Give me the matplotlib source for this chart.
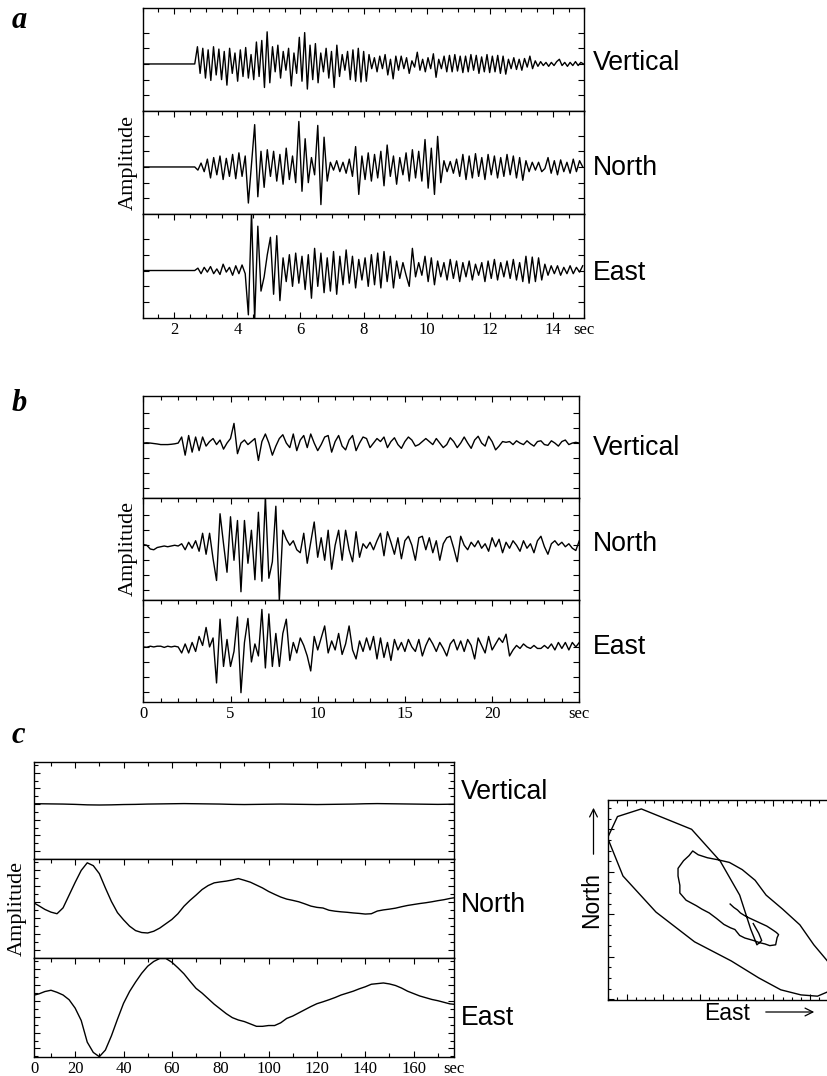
import numpy as np
import matplotlib
matplotlib.use("Agg")
import matplotlib.pyplot as plt
from matplotlib.ticker import MultipleLocator, FixedLocator, NullFormatter
from matplotlib.patches import FancyArrowPatch

components = ["Vertical", "North", "East"]

# ---- panel a: 1-15 sec, traces sampled at fixed steps after the onset ----
a_start, a_onset = 1.0, 2.65
a_step_vertical, a_step = 0.085, 0.1
a_vertical = [
    0.0, 1.1, -0.6, 1.0, -0.9, 0.9, -1.05, 1.1, -0.7, 0.95,
    -1.0, 0.8, -1.35, 1.0, -0.6, 0.7, -1.1, 0.9, -0.8, 1.05,
    -0.9, 0.6, -1.0, 1.4, -0.8, 1.5, -1.5, 2.05, -1.2, 1.1,
    -0.5, 1.2, -0.9, 0.8, -0.4, 1.0, -1.4, 0.7, -0.6, 1.7,
    -1.1, 2.0, -1.6, 1.2, -1.0, 1.3, -1.2, 0.7, -0.5, 1.0,
    -0.9, 0.8, -1.5, 1.2, -0.8, 0.6, -0.4, 0.8, -1.0, 0.9,
    -1.1, 1.0, -1.15, 0.8, -1.1, 0.6, -0.3, 0.4, -0.5, 0.5,
    -0.3, 0.6, -0.7, 0.3, -0.95, 0.5, -0.4, 0.5, -0.3, 0.4,
    -0.6, 0.2, -0.2, 0.75, -0.4, 0.3, -0.5, 0.4, -0.3, 0.65,
    -0.85, 0.3, -0.3, 0.5, -0.5, 0.55, -0.5, 0.6, -0.45, 0.5,
    -0.55, 0.5, -0.5, 0.6, -0.4, 0.55, -0.6, 0.45, -0.5, 0.6,
    -0.55, 0.5, -0.5, 0.55, -0.6, 0.5, -0.65, 0.3, -0.3, 0.4,
    -0.35, 0.3, -0.4, 0.35, -0.2, 0.5, -0.3, 0.2, -0.15, 0.15,
    -0.1, 0.1, -0.15, 0.1, -0.1, 0.15, 0.3, -0.1, 0.1, -0.15,
    0.1, -0.1, 0.15, -0.1, 0.1, 0.0,
]
a_north = [
    0.0, -0.2, 0.25, -0.3, 0.5, -0.7, 0.6, -0.5, 0.7, -0.8,
    0.55, -0.6, 0.8, -0.75, 0.9, -0.6, 0.7, -2.3, 0.2, 2.7,
    -1.9, 1.0, -1.3, 1.1, -0.6, 1.0, -0.9, 0.8, -1.1, 1.2,
    -0.8, 0.7, -1.0, 2.9, -1.55, 1.8, -1.0, 0.6, -0.5, 2.65,
    -2.4, 1.9, -0.9, 0.3, -0.2, 0.4, -0.3, 0.3, -0.4, 0.5,
    -0.6, 1.3, -1.75, 0.7, -0.8, 0.9, -0.9, 0.8, -0.7, 1.0,
    -1.2, 1.4, -0.6, 0.7, -1.1, 0.6, -0.5, 0.9, -0.9, 1.1,
    -0.7, 1.0, -0.9, 1.75, -1.35, 1.2, -1.75, 1.95, -1.0, 0.4,
    -0.3, 0.35, -0.4, 0.5, -0.6, 0.8, -0.8, 0.7, -0.7, 0.85,
    -0.6, 0.6, -0.8, 0.8, -0.5, 0.7, -0.7, 0.6, -0.6, 0.8,
    -0.5, 0.7, -0.7, 0.6, -0.85, 0.4, -0.3, 0.3, -0.2, 0.3,
    -0.3, -0.1, 0.6, -0.4, 0.4, -0.5, 0.45, -0.3, 0.3, -0.4,
    0.5, -0.3, 0.4, 0.0,
]
a_east = [
    0.0, 0.15, -0.2, 0.2, -0.1, 0.25, -0.2, 0.1, -0.25, 0.4,
    -0.1, 0.2, -0.3, 0.3, -0.2, 0.35, -0.2, -2.8, 3.7, -3.1,
    2.8, -1.3, -0.4, 1.0, 2.1, -1.5, 2.2, -1.9, 0.8, -0.7,
    1.0, -1.0, 1.1, -0.8, 0.9, -1.2, 1.0, -1.75, 1.4, -1.0,
    1.1, -1.4, 0.8, -1.3, 1.2, -1.5, 0.9, -0.9, 1.3, -0.8,
    0.9, -1.1, 0.7, -0.6, 0.8, -1.0, 1.0, -0.9, 1.1, -1.1,
    1.2, -0.7, 0.9, -1.1, 0.6, -0.5, 0.5, -0.3, -1.0, 1.4,
    -0.4, 0.5, -0.3, 0.9, -0.7, 0.8, -0.9, 0.6, -0.4, 0.5,
    -0.6, 0.7, -0.5, 0.6, -0.7, 0.5, -0.4, 0.6, -0.6, 0.4,
    -0.3, 0.5, -0.7, 0.6, -0.5, 0.7, -0.6, 0.5, -0.4, 0.6,
    -0.5, 0.7, -0.6, 0.5, -0.7, 0.9, -0.8, 0.85, -0.7, 0.8,
    -0.6, 0.4, -0.3, 0.3, -0.2, 0.3, -0.3, 0.2, -0.2, 0.3,
    -0.2, 0.2, -0.1, 0.3,
]

# ---- panel b: 0-25 sec ----
b_step = 0.2
b_vertical = [
    0.0, 0.02, 0.0, -0.03, -0.06, -0.1, -0.1, -0.1, -0.08, -0.05,
    0.0, 0.4, -0.8, 0.5, -0.6, 0.4, -0.5, 0.4, -0.2, 0.1,
    0.3, -0.1, 0.2, -0.4, 0.0, 0.3, 1.3, -0.7, 0.0, 0.2,
    -0.1, 0.1, 0.3, -1.15, 0.1, 0.6, 0.0, -0.8, -0.2, 0.3,
    0.55, 0.0, -0.3, 0.6, -0.5, 0.2, 0.5, -0.3, 0.6, 0.0,
    -0.5, -0.1, 0.4, 0.5, -0.6, 0.1, 0.5, -0.2, -0.45, 0.2,
    0.5, -0.5, 0.0, 0.4, 0.3, -0.3, 0.0, 0.3, 0.1, 0.4,
    -0.3, 0.1, 0.35, -0.1, -0.35, 0.1, 0.4, 0.2, -0.2, -0.1,
    0.1, 0.3, 0.1, -0.1, 0.3, 0.0, -0.3, -0.1, 0.35, 0.1,
    -0.3, 0.0, 0.4, 0.0, -0.35, 0.2, 0.45, 0.0, -0.2, 0.45,
    0.1, -0.45, -0.2, 0.1, 0.05, 0.1, -0.1, 0.15, 0.0, -0.1,
    0.15, -0.05, -0.2, 0.1, 0.15, -0.1, -0.15, 0.15, 0.0, -0.2,
    0.1, 0.2, -0.1, 0.0, 0.05, 0.0,
]
b_north = [
    0.05, 0.0, -0.25, -0.3, -0.15, -0.1, -0.05, -0.1, -0.05, 0.0,
    -0.05, 0.1, -0.3, 0.2, -0.2, 0.3, -0.4, 0.8, -0.6, 0.8,
    -0.9, -2.35, 2.1, 0.1, -1.8, 1.9, -1.0, 1.65, -3.1, 1.65,
    -1.2, 1.0, -2.3, 2.2, -2.4, 3.2, -2.2, -1.1, 2.6, -3.67,
    1.0, 0.4, 0.0, 0.3, -0.3, -0.5, 0.8, -1.2, 0.2, 1.55,
    -0.8, 0.5, -1.0, 1.0, -1.6, 0.0, 1.0, -1.0, 1.0, -0.3,
    -1.1, 0.9, -0.8, 0.1, -0.2, 0.2, -0.3, 0.3, 0.8, -0.7,
    0.9, 0.2, -0.6, 0.5, -0.9, 0.3, 0.6, 0.0, -1.0, 0.5,
    0.6, -0.3, 0.5, -0.5, 0.3, -1.0, 0.1, 0.5, 0.6, -0.2,
    -1.1, 0.6, 0.0, -0.3, 0.2, -0.1, 0.3, -0.2, 0.1, -0.4,
    0.5, -0.1, 0.4, -0.5, 0.2, -0.2, 0.3, 0.0, -0.4, 0.3,
    -0.2, 0.1, -0.5, 0.3, 0.6, -0.1, -0.6, 0.1, 0.3, 0.0,
    0.2, -0.1, 0.1, -0.2, -0.35, 0.3,
]
b_east = [
    0.0, -0.02, 0.05, 0.0, 0.05, 0.05, -0.03, 0.05, 0.0, 0.05,
    0.0, -0.4, 0.2, -0.4, 0.3, -0.3, 0.7, 0.1, 1.3, 0.0,
    0.6, -2.4, 1.85, -1.3, 0.5, -1.3, -0.3, 2.0, -3.05, 0.3,
    1.9, -1.0, 0.2, -0.6, 2.5, -1.4, 2.2, -1.3, 0.9, -1.3,
    0.9, 1.85, -0.9, 0.3, -0.4, 0.6, 0.1, -0.6, -1.6, 0.7,
    -0.2, 0.6, 1.4, -0.4, 0.4, -0.2, 0.9, -0.5, 0.2, 1.4,
    -0.2, -0.8, 0.4, -0.3, 0.6, -0.2, 0.7, -0.8, 0.6, -0.7,
    0.3, -0.9, 0.5, -0.2, 0.3, -0.3, 0.5, 0.0, -0.3, 0.5,
    -0.6, 0.1, 0.6, 0.2, -0.3, 0.3, -0.1, -0.6, 0.2, 0.5,
    -0.2, 0.4, -0.3, 0.5, 0.1, -0.8, 0.6, 0.1, -0.4, 0.7,
    -0.2, 0.2, 0.6, 0.3, 0.85, -0.6, -0.2, 0.1, -0.1, 0.2,
    0.0, -0.1, 0.1, -0.1, -0.1, 0.1, -0.1, 0.2, -0.2, 0.3,
    -0.1, 0.3, -0.2, 0.3, 0.0, 0.3,
]

# ---- panel c: long period record, 0-180 sec ----
c_step_vertical, c_step = 5.0, 2.5
c_vertical = [
    0.02, 0.02, 0.01, 0.0, -0.02, -0.05, -0.06, -0.05, -0.03, -0.02,
    0.0, 0.01, 0.02, 0.03, 0.02, 0.01, 0.0, -0.02, -0.03, -0.02,
    -0.01, 0.0, -0.01, -0.02, -0.03, -0.02, -0.01, 0.0, 0.02, 0.03,
    0.02, 0.01, 0.0, -0.01, -0.02, -0.01, 0.0,
]
c_north = [
    0.15, 0.0, -0.22, -0.45, -0.62, -0.72, -0.35, 0.45, 1.25, 2.0,
    2.48, 2.3, 1.8, 0.9, 0.05, -0.65, -1.1, -1.5, -1.78, -1.9,
    -1.93, -1.82, -1.62, -1.35, -1.08, -0.72, -0.25, 0.12, 0.45, 0.8,
    1.05, 1.22, 1.28, 1.33, 1.4, 1.49, 1.38, 1.26, 1.08, 0.9,
    0.68, 0.5, 0.33, 0.2, 0.12, 0.03, -0.1, -0.24, -0.32, -0.36,
    -0.5, -0.56, -0.6, -0.63, -0.67, -0.7, -0.74, -0.72, -0.55, -0.48,
    -0.43, -0.37, -0.28, -0.2, -0.14, -0.08, -0.03, 0.03, 0.1, 0.16,
    0.24, 0.3, 0.34,
]
c_east = [
    0.3, 0.35, 0.45, 0.6, 0.68, 0.55, 0.38, 0.08, -0.45, -1.23,
    -2.6, -3.25, -3.52, -3.1, -2.2, -1.15, -0.15, 0.6, 1.2, 1.75,
    2.2, 2.5, 2.69, 2.69, 2.45, 2.1, 1.72, 1.25, 0.8, 0.5,
    0.15, -0.2, -0.5, -0.8, -1.05, -1.2, -1.3, -1.45, -1.6, -1.6,
    -1.55, -1.55, -1.38, -1.1, -0.95, -0.75, -0.55, -0.35, -0.17, -0.05,
    0.08, 0.22, 0.38, 0.5, 0.62, 0.77, 0.9, 1.06, 1.1, 1.14,
    1.08, 0.98, 0.82, 0.62, 0.47, 0.32, 0.21, 0.1, 0.02, -0.08,
    -0.18, -0.22, -0.25,
]

plt.rcParams["font.family"] = ["Liberation Serif", "DejaVu Serif"]
plt.rcParams["axes.linewidth"] = 1.0

W, H = 828, 1076
fig = plt.figure(figsize=(W / 100, H / 100), dpi=100)


def fx(px):
    return px / W


def fy(py):
    return 1 - py / H


def add_box(left, top, right, bottom):
    return fig.add_axes([fx(left), fy(bottom), (right - left) / W, (bottom - top) / H])


def trace_axes(left, right, top, bottom, last, xlim, ylim, xmajor, xminor, yticks, yminor=None):
    ax = add_box(left, top, right, bottom)
    ax.set_xlim(*xlim)
    ax.set_ylim(*ylim)
    ax.xaxis.set_major_locator(FixedLocator(xmajor))
    ax.xaxis.set_minor_locator(FixedLocator(xminor))
    ax.yaxis.set_major_locator(FixedLocator(yticks))
    if yminor is not None:
        ax.yaxis.set_minor_locator(MultipleLocator(yminor))
    ax.tick_params(which="both", direction="in", top=True, bottom=last, left=True, right=True,
                   labelbottom=last, labelleft=False, width=0.8, labelsize=12, pad=3)
    ax.tick_params(which="major", length=4.5)
    ax.tick_params(which="minor", length=2.8)
    ax.yaxis.set_major_formatter(NullFormatter())
    return ax


def end_label(ax, x, text):
    ax.annotate(text, xy=(x, 0), xycoords=("data", "axes fraction"), xytext=(0, -3),
                textcoords="offset points", ha="center", va="top", fontsize=12)


sans = ["Liberation Sans", "DejaVu Sans"]
trace_lw = 1.0

# ---------------- panel a ----------------
a_bounds = [(8, 111), (111, 214), (214, 318)]
a_series = [
    (a_vertical, a_step_vertical),
    (a_north, a_step),
    (a_east, a_step),
]
a_label_y = [63, 168, 273]
for i, ((top, bottom), (vals, step)) in enumerate(zip(a_bounds, a_series)):
    last = i == 2
    ax = trace_axes(142.7, 584.3, top, bottom, last, (a_start, 15.0), (-3.0, 3.57),
                    np.arange(2, 15, 2), np.arange(1.0, 15.01, 0.5), [-2, -1, 0, 1, 2])
    t = np.r_[a_start, a_onset + step * np.arange(len(vals))]
    y = np.r_[0.0, vals]
    ax.plot(t, y, color="black", lw=trace_lw)
    if last:
        end_label(ax, 15.0, "sec")
    fig.text(fx(593), fy(a_label_y[i]), components[i], ha="left", va="center",
             fontsize=19.2, family=sans)
fig.text(fx(128), fy(163), "Amplitude", rotation=90, ha="center", va="center", fontsize=16)
fig.text(fx(12), fy(28), "a", fontsize=22, fontweight="bold", style="italic",
         ha="left", va="baseline")

# ---------------- panel b ----------------
b_bounds = [(395.7, 498.3), (498.3, 600), (600, 701.7)]
b_series = [b_vertical, b_north, b_east]
b_label_y = [448, 544, 647]
for i, ((top, bottom), vals) in enumerate(zip(b_bounds, b_series)):
    last = i == 2
    ax = trace_axes(143.3, 579.3, top, bottom, last, (0, 25), (-3.65, 3.13),
                    [0, 5, 10, 15, 20], np.arange(0, 25.01, 1), [-3, -2, -1, 0, 1, 2])
    t = b_step * np.arange(len(vals))
    ax.plot(t, vals, color="black", lw=trace_lw)
    if last:
        end_label(ax, 25.0, "sec")
    fig.text(fx(593), fy(b_label_y[i]), components[i], ha="left", va="center",
             fontsize=19.2, family=sans)
fig.text(fx(128), fy(549), "Amplitude", rotation=90, ha="center", va="center", fontsize=16)
fig.text(fx(12), fy(411), "b", fontsize=22, fontweight="bold", style="italic",
         ha="left", va="baseline")

# ---------------- panel c ----------------
c_xlim = (3.1, 176.7)
c_bounds = [(761.7, 859.3), (859.3, 958.3), (958.3, 1056.7)]
c_series = [
    (c_vertical, c_step_vertical),
    (c_north, c_step),
    (c_east, c_step),
]
c_label_y = [792, 905, 1018]
for i, ((top, bottom), (vals, step)) in enumerate(zip(c_bounds, c_series)):
    last = i == 2
    ax = trace_axes(34.3, 454, top, bottom, last, c_xlim, (-3.52, 2.7),
                    np.arange(20, 161, 20), np.arange(10, 171, 20), [-3, -2, -1, 0, 1, 2], 0.5)
    t = step * np.arange(len(vals))
    ax.plot(t, vals, color="black", lw=trace_lw)
    if last:
        end_label(ax, c_xlim[1], "sec")
        end_label(ax, c_xlim[0], "0")
    fig.text(fx(461), fy(c_label_y[i]), components[i], ha="left", va="center",
             fontsize=19.2, family=sans)
fig.text(fx(17), fy(908), "Amplitude", rotation=90, ha="center", va="center", fontsize=16)
fig.text(fx(12), fy(743), "c", fontsize=22, fontweight="bold", style="italic",
         ha="left", va="baseline")

# particle motion: East against North of the panel c record
ct = c_step * np.arange(len(c_north))
inside = (ct >= c_xlim[0]) & (ct <= c_xlim[1])
hx = add_box(608.3, 800, 839.5, 1000)
hx.plot(np.array(c_east)[inside], np.array(c_north)[inside], color="black", lw=trace_lw)
hx.set_xlim(-3.5, 2.8)
hx.set_ylim(-2.02, 2.69)
hx.xaxis.set_major_locator(MultipleLocator(1))
hx.xaxis.set_minor_locator(MultipleLocator(0.25))
hx.yaxis.set_major_locator(MultipleLocator(1))
hx.yaxis.set_minor_locator(MultipleLocator(0.25))
hx.tick_params(which="both", direction="in", top=True, bottom=True, left=True, right=True,
               labelbottom=False, labelleft=False, width=0.8)
hx.tick_params(which="major", length=4.5)
hx.tick_params(which="minor", length=2.5)

fig.text(fx(592), fy(900), "North", rotation=90, ha="center", va="center",
         fontsize=16.5, family=sans)
fig.text(fx(727), fy(1013), "East", ha="center", va="center", fontsize=16.5, family=sans)
fig.add_artist(FancyArrowPatch((fx(593.5), fy(857)), (fx(593.5), fy(805)),
                               transform=fig.transFigure, arrowstyle="->",
                               mutation_scale=14, lw=0.9, color="black"))
fig.add_artist(FancyArrowPatch((fx(763), fy(1012)), (fx(817), fy(1012)),
                               transform=fig.transFigure, arrowstyle="->",
                               mutation_scale=14, lw=0.9, color="black"))

fig.savefig("out.png", dpi=100)
